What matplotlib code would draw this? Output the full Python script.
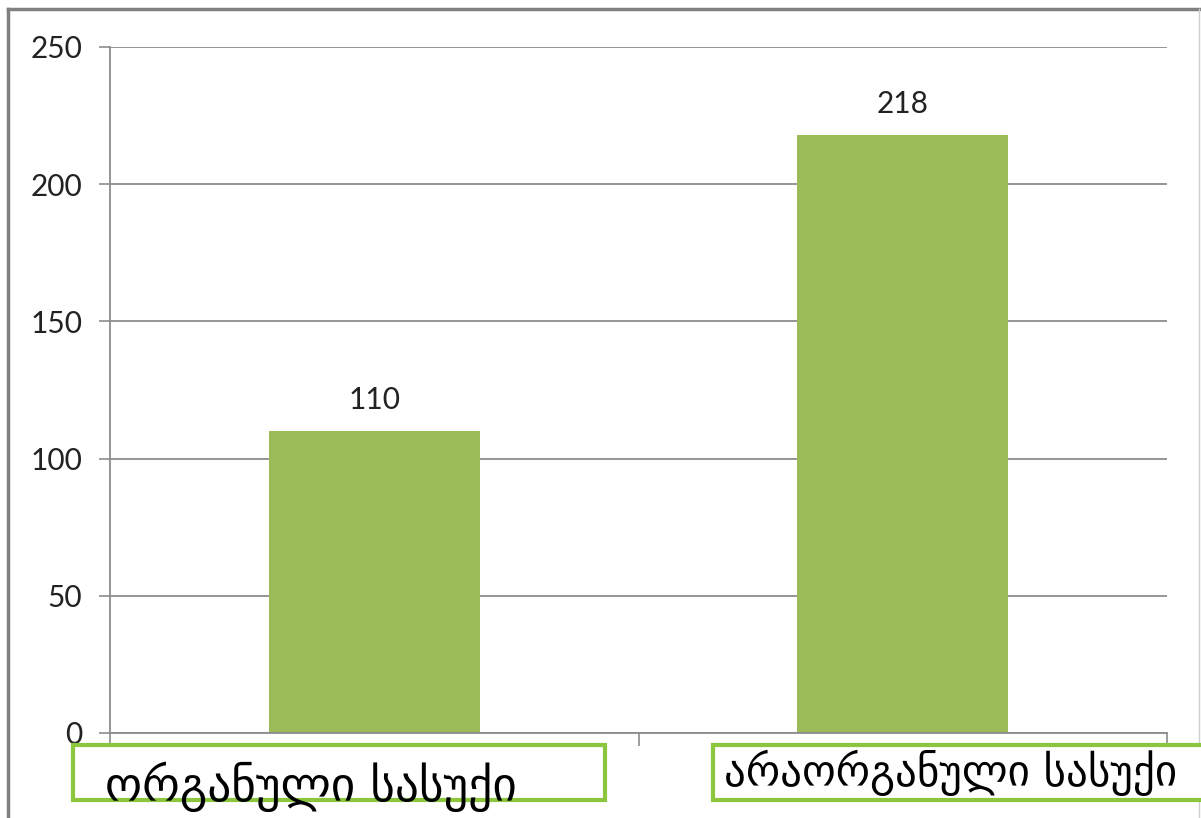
#!/usr/bin/env python3
# bar chart: organic vs inorganic fertilizer (Georgian labels)

import matplotlib
matplotlib.use("Agg")
import matplotlib.pyplot as plt
from matplotlib.patches import Rectangle
from matplotlib.lines import Line2D

categories = ['ორგანული სასუქი', 'არაორგანული სასუქი']
values = [110, 218]
y_ticks = [0, 50, 100, 150, 200, 250]

W, H = 1201, 818
BAR = '#9bbb59'
BOX = '#8cc63f'
GRID = '#8c8c8c'


def px(x, y, w, h):
    """pixel box (top-left origin) -> figure fraction rect"""
    return [x / W, 1 - (y + h) / H, w / W, h / H]


def main():
    fig = plt.figure(figsize=(W / 100, H / 100), dpi=100)
    fig.patch.set_facecolor('white')

    # slide frame
    fig.add_artist(Line2D([8 / W, 8 / W], [0, 1 - 9 / H], color='#808080', lw=2.5))
    fig.add_artist(Line2D([8 / W, 1], [1 - 9 / H, 1 - 9 / H], color='#808080', lw=2.5))
    fig.add_artist(Line2D([1199 / W, 1199 / W], [0, 1 - 9 / H], color='#d0d0d0', lw=1))

    ax = fig.add_axes(px(110, 47, 1057, 686))
    xs = list(range(len(categories)))
    ax.bar(xs, values, width=0.4, color=BAR, zorder=2)

    ax.set_xlim(-0.5, len(categories) - 0.5)
    ax.set_ylim(0, 250)
    ax.set_yticks(y_ticks)
    ax.set_yticklabels([str(v) for v in y_ticks], fontsize=21.5, color='#222222',
                       family=['Lato', 'DejaVu Sans'])
    ax.tick_params(axis='y', length=8, width=1.2, color=GRID, pad=12)

    ax.set_xticks([])
    ax.set_xticks([-0.5, 0.5, 1.5], minor=True)
    ax.tick_params(axis='x', which='minor', length=9, width=1.2, color=GRID)

    ax.grid(axis='y', color=GRID, lw=1.3, zorder=0)
    for s in ['top', 'right']:
        ax.spines[s].set_visible(False)
    ax.spines['left'].set_color(GRID)
    ax.spines['bottom'].set_color(GRID)
    ax.spines['left'].set_linewidth(1.3)
    ax.spines['bottom'].set_linewidth(1.3)

    for x, v in zip(xs, values):
        ax.annotate(str(v), (x, v), xytext=(0, 22), textcoords='offset pixels',
                    ha='center', va='baseline', fontsize=21.5, color='#222222',
                    family=['Lato', 'DejaVu Sans'])

    # category label boxes
    boxes = [(73, 745, 532, 55), (713, 745, 520, 55)]
    text_x = [105, 724]
    text_base = [801, 786]
    text_size = [34, 31]
    for (bx, by, bw, bh), tx, ty, fs, label in zip(boxes, text_x, text_base,
                                                   text_size, categories):
        fig.add_artist(Rectangle((bx / W, 1 - (by + bh) / H), bw / W, bh / H,
                                 transform=fig.transFigure, facecolor='white',
                                 edgecolor=BOX, lw=3, zorder=5))
        fig.text(tx / W, 1 - ty / H, label, fontsize=fs, color='black',
                 family=['DejaVu Sans'], ha='left', va='baseline', zorder=6)

    print('Writing plot to out.png')
    fig.savefig('out.png', dpi=100)
    plt.close(fig)


if __name__ == "__main__":
    main()
